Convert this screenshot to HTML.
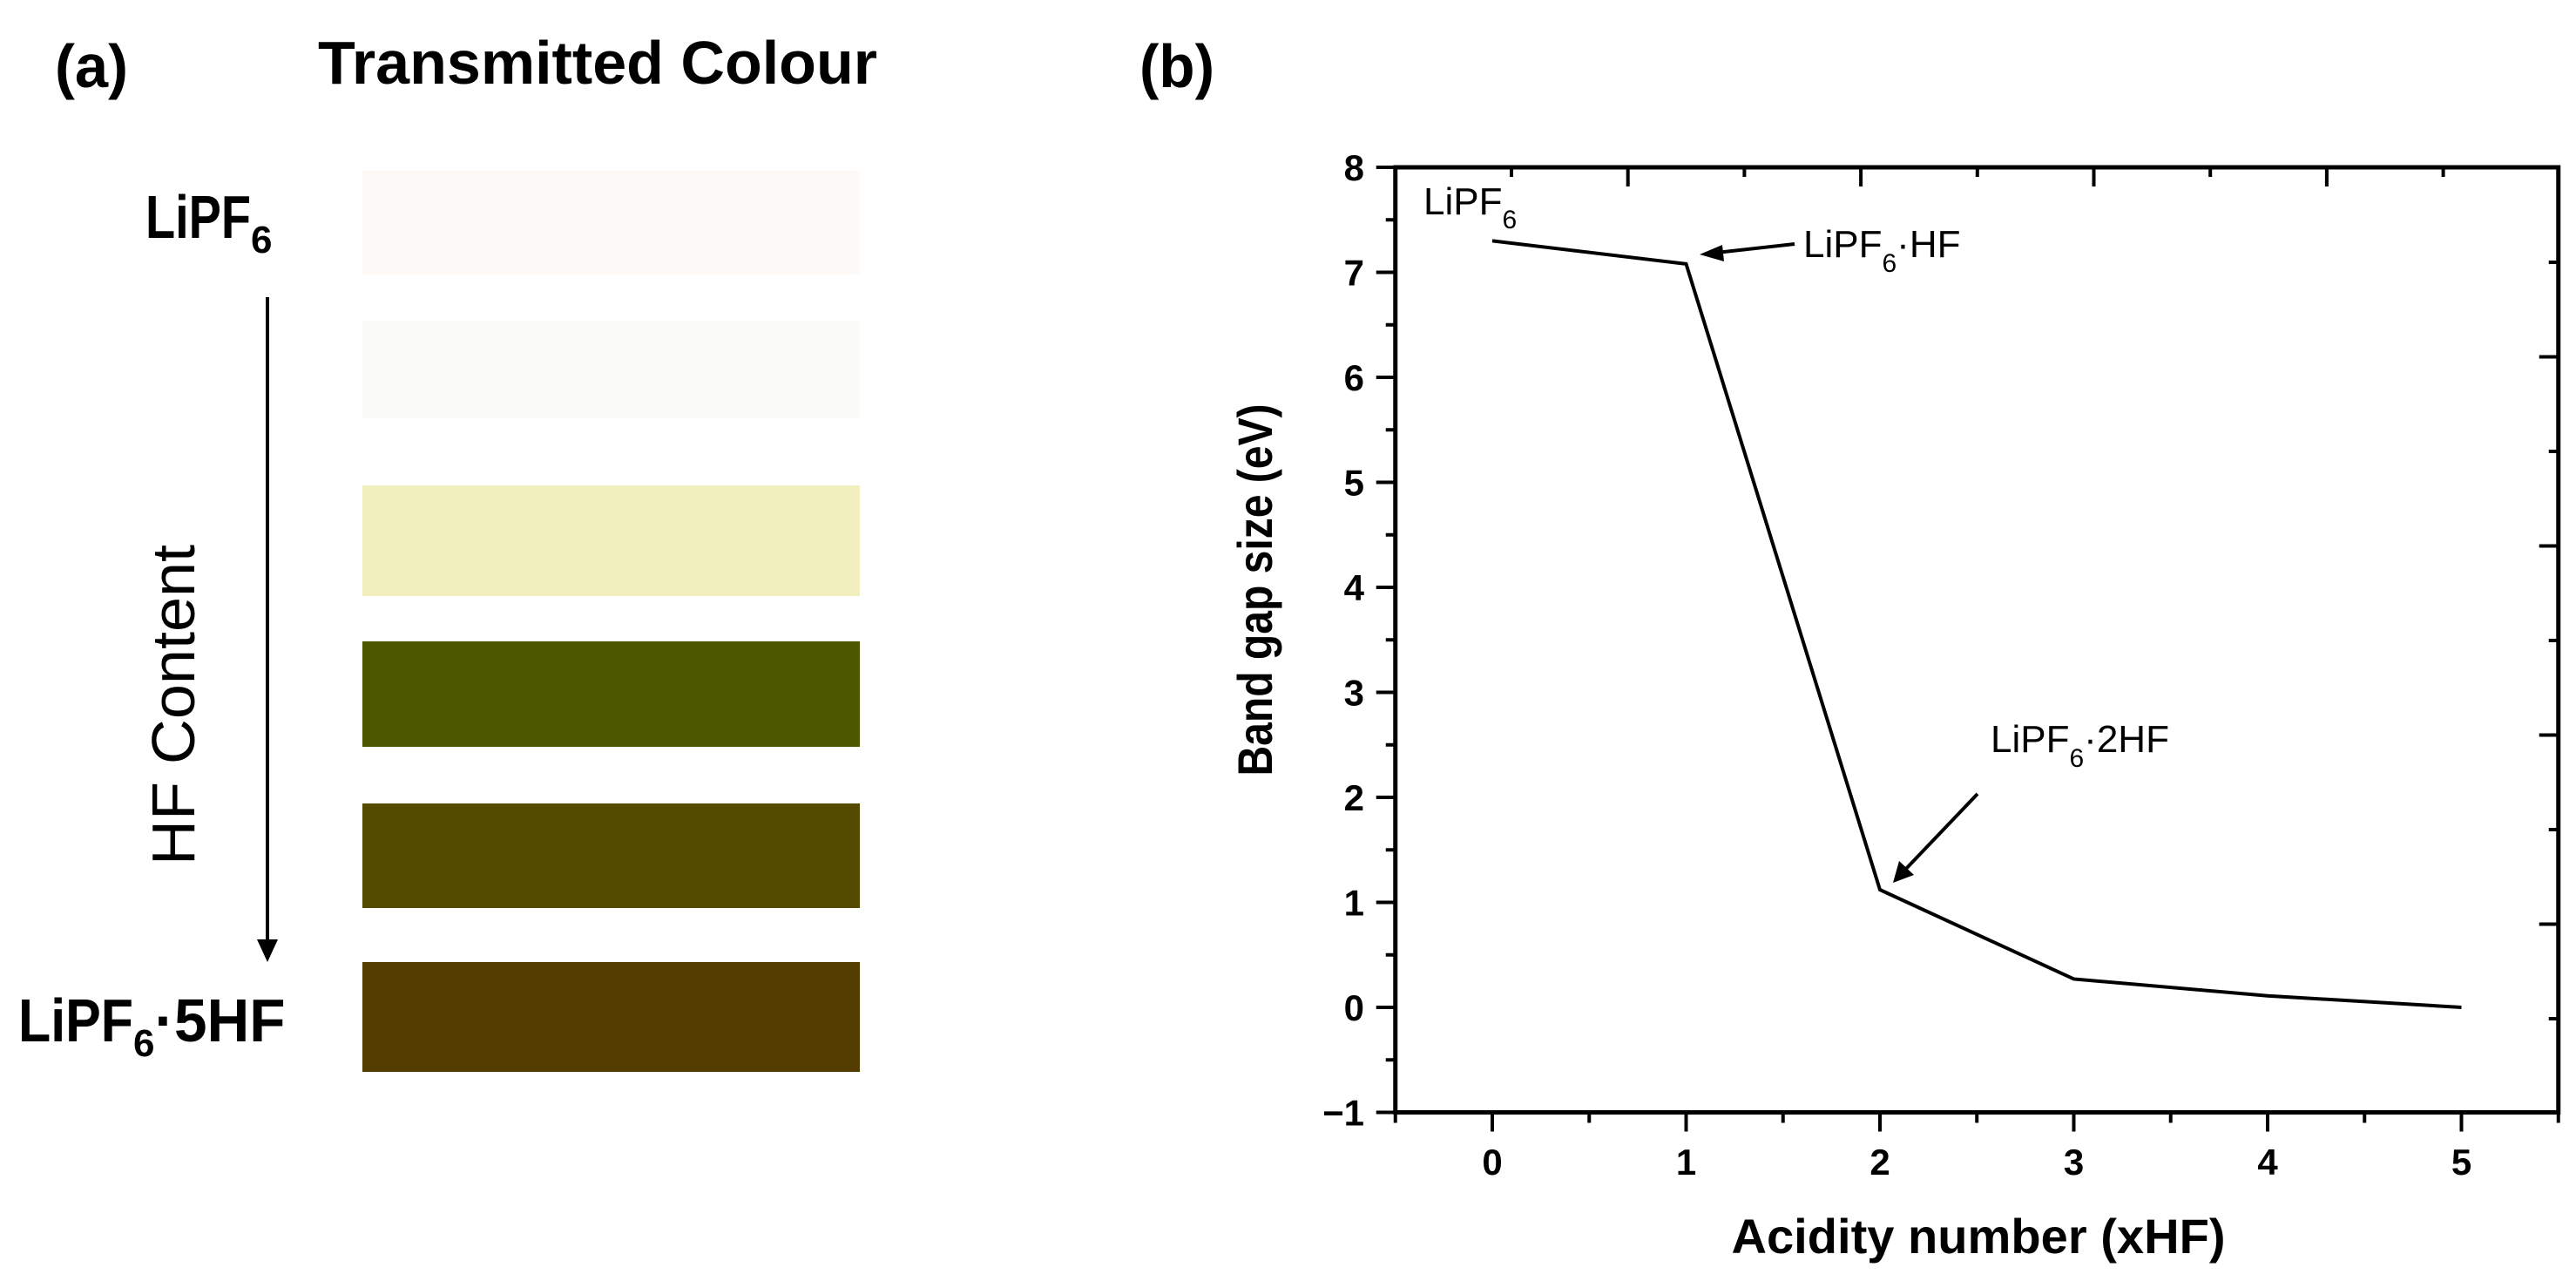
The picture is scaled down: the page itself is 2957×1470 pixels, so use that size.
<!DOCTYPE html>
<html><head><meta charset="utf-8">
<style>
html,body{margin:0;padding:0;background:#fff;}
svg{display:block;}
text{font-family:"Liberation Sans",sans-serif;}
</style></head>
<body>
<svg id="fig" width="2957" height="1470" viewBox="0 0 2957 1470" xmlns="http://www.w3.org/2000/svg">
  <rect x="0" y="0" width="2957" height="1470" fill="#fff"/>
  <!-- Panel (a) -->
  <g>
    <text x="63" y="100" font-size="70" font-weight="bold" textLength="84" lengthAdjust="spacingAndGlyphs">(a)</text>
    <text x="365" y="96" font-size="70" font-weight="bold" textLength="642" lengthAdjust="spacingAndGlyphs">Transmitted Colour</text>
    <text x="167" y="273" font-size="70" font-weight="bold"><tspan textLength="121" lengthAdjust="spacingAndGlyphs">LiPF</tspan><tspan dy="17" font-size="44">6</tspan></text>
    <text x="21" y="1195" font-size="70" font-weight="bold"><tspan textLength="132" lengthAdjust="spacingAndGlyphs">LiPF</tspan><tspan dy="17" font-size="44">6</tspan><tspan dy="-17" textLength="150" lengthAdjust="spacingAndGlyphs">·5HF</tspan></text>
    <line x1="307" y1="341" x2="307" y2="1082" stroke="#000" stroke-width="4"/>
    <polygon points="295,1078 319,1078 307,1104" fill="#000"/>
    <text transform="translate(223,993) rotate(-90)" x="0" y="0" font-size="70" textLength="368" lengthAdjust="spacingAndGlyphs">HF Content</text>
    <g id="swatches"></g>
  </g>
  <!-- Panel (b) -->
  <g>
    <text x="1308" y="100" font-size="70" font-weight="bold" textLength="86" lengthAdjust="spacingAndGlyphs">(b)</text>
    <g id="chart"></g>
    <text transform="translate(1460,677) rotate(-90)" text-anchor="middle" font-size="56" font-weight="bold" textLength="427" lengthAdjust="spacingAndGlyphs">Band gap size (eV)</text>
    <text x="2271" y="1438" text-anchor="middle" font-size="56" font-weight="bold" textLength="567" lengthAdjust="spacingAndGlyphs">Acidity number (xHF)</text>
    <text x="1634" y="246" font-size="44"><tspan>LiPF</tspan><tspan dy="16" font-size="30">6</tspan></text>
    <text x="2070" y="295" font-size="44"><tspan>LiPF</tspan><tspan dy="17" font-size="30">6</tspan><tspan dy="-17">·HF</tspan></text>
    <text x="2285" y="863" font-size="44"><tspan>LiPF</tspan><tspan dy="17" font-size="30">6</tspan><tspan dy="-17">·2HF</tspan></text>
    <line x1="2060" y1="280" x2="1970" y2="290" stroke="#000" stroke-width="4"/>
    <polygon points="1951,292 1977,281 1979,300" fill="#000"/>
    <line x1="2270" y1="911" x2="2186" y2="999" stroke="#000" stroke-width="4"/>
    <polygon points="2173,1013 2180,988 2197,1004" fill="#000"/>
  </g>
</svg>
<script>
// Panel (a) swatch data
var swatchColors = ["#fdf9f7", "#fafaf6", "#f2efbf", "#4c5900", "#554b00", "#533c00"];
var swatchTops = [196, 368, 557, 736, 922, 1104];
var swatchBottoms = [315, 480, 684, 857, 1042, 1230];

// Panel (b) chart data
var xValues = [0, 1, 2, 3, 4, 5];
var bandGap = [7.30, 7.08, 1.12, 0.27, 0.11, 0.00];
var xTickLabels = ["0", "1", "2", "3", "4", "5"];
var yTickLabels = ["\u22121", "0", "1", "2", "3", "4", "5", "6", "7", "8"];
var yTickValues = [-1, 0, 1, 2, 3, 4, 5, 6, 7, 8];

var NS = "http://www.w3.org/2000/svg";
function mk(tag, attrs, parent) {
  var e = document.createElementNS(NS, tag);
  for (var k in attrs) e.setAttribute(k, attrs[k]);
  parent.appendChild(e);
  return e;
}

// swatches
var sw = document.getElementById("swatches");
for (var i = 0; i < swatchColors.length; i++) {
  var r = mk("rect", {x: 416, y: swatchTops[i], width: 571, height: swatchBottoms[i] - swatchTops[i], fill: swatchColors[i]}, sw);
  
  
}

// axes
var X0 = 1713, XU = 222.5, Y0 = 1156, YU = 120.5;
function sx(v) { return X0 + v * XU; }
function sy(v) { return Y0 - v * YU; }
var xMin = -0.5, xMax = 5.5, yMin = -1, yMax = 8;
var L = sx(xMin), R = sx(xMax), T = sy(yMax), B = sy(yMin);
var ch = document.getElementById("chart");

var frame = mk("rect", {x: L, y: T, width: R - L, height: B - T, fill: "none", stroke: "#000", "stroke-width": 5}, ch);



for (var v = yMin; v <= yMax + 0.001; v += 0.5) {
  var major = Math.abs(v - Math.round(v)) < 0.01;
  var t = mk("line", {x1: L - (major ? 22 : 11), y1: sy(v), x2: L, y2: sy(v), stroke: "#000", "stroke-width": 4}, ch);
  
  
}
for (var i = 0; i < yTickValues.length; i++) {
  var tl = mk("text", {x: 1566, y: sy(yTickValues[i]) + 15, "text-anchor": "end", "font-size": 42, "font-weight": "bold"}, ch);
  tl.textContent = yTickLabels[i];
  
  
}
for (var v = xMin; v <= xMax + 0.001; v += 0.5) {
  var major = Math.abs(v - Math.round(v)) < 0.01;
  var t = mk("line", {x1: sx(v), y1: B, x2: sx(v), y2: B + (major ? 22 : 12), stroke: "#000", "stroke-width": 4}, ch);
  
  
}
for (var i = 0; i < xValues.length; i++) {
  var tl = mk("text", {x: sx(xValues[i]), y: 1348, "text-anchor": "middle", "font-size": 42, "font-weight": "bold"}, ch);
  tl.textContent = xTickLabels[i];
  
  
}
for (var i = 0; i < 9; i++) {
  var px = 1735 + i * 133.7;
  var major = (i % 2 === 1);
  var t = mk("line", {x1: px, y1: T, x2: px, y2: T + (major ? 22 : 11), stroke: "#000", "stroke-width": 4}, ch);
  
  
}
for (var i = 0; i < 9; i++) {
  var py = 301 + i * 108.5;
  var major = (i % 2 === 1);
  var t = mk("line", {x1: R - (major ? 22 : 11), y1: py, x2: R, y2: py, stroke: "#000", "stroke-width": 4}, ch);
  
  
}
var pts = [];
for (var i = 0; i < xValues.length; i++) pts.push(sx(xValues[i]) + "," + sy(bandGap[i]));
var line = mk("polyline", {points: pts.join(" "), fill: "none", stroke: "#000", "stroke-width": 4, "stroke-linejoin": "miter"}, ch);


</script>
</body></html>
